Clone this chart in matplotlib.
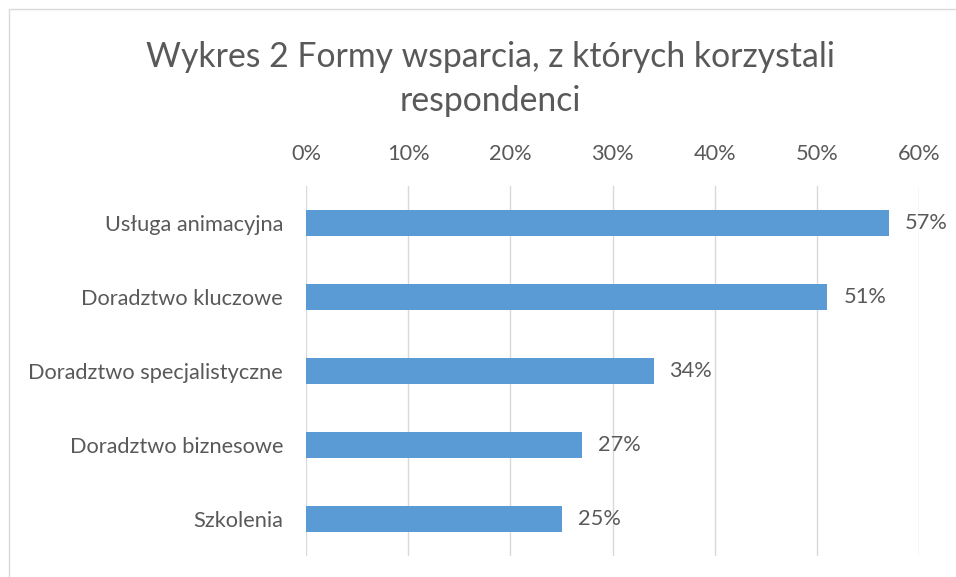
import matplotlib
matplotlib.use("Agg")
import matplotlib.pyplot as plt
from matplotlib.patches import Rectangle
from matplotlib.ticker import FuncFormatter

categories = ["Usługa animacyjna", "Doradztwo kluczowe", "Doradztwo specjalistyczne",
              "Doradztwo biznesowe", "Szkolenia"]
values = [0.57, 0.51, 0.34, 0.27, 0.25]
ticks = [0.0, 0.1, 0.2, 0.3, 0.4, 0.5, 0.6]
title = "Wykres 2 Formy wsparcia, z których korzystali\nrespondenci"

FONT = ["Lato", "DejaVu Sans"]
plt.rcParams['font.family'] = FONT
TXT = "#595959"
GRID = "#D9D9D9"
BAR = "#5B9BD5"

W, H = 956, 577
fig = plt.figure(figsize=(W / 100, H / 100), dpi=100)
fig.patch.set_facecolor("white")

# chart area border (cropped at right/bottom)
fig.add_artist(Rectangle((9 / W, -0.05), 1.1, 1 - 9 / H + 0.05, transform=fig.transFigure,
                         fill=False, edgecolor=GRID, linewidth=1.0))

ax = fig.add_axes([306 / W, 1 - 556 / H, (919.3 - 306) / W, (556 - 186) / H])
y = list(range(len(categories)))[::-1]
ax.barh(y, values, height=0.35, color=BAR, zorder=3)
ax.set_ylim(-0.5, len(categories) - 0.5)
ax.set_xlim(0, 0.6)
ax.set_yticks(y)
ax.set_yticklabels(categories, fontsize=15.7, color=TXT)
ax.set_xticks(ticks)
ax.xaxis.set_major_formatter(FuncFormatter(lambda v, p: f"{v*100:.0f}%"))
ax.xaxis.tick_top()
ax.tick_params(axis="x", length=0, pad=16, labelsize=15.7, labelcolor=TXT)
ax.tick_params(axis="y", length=0, pad=16.5)
ax.grid(axis="x", color=GRID, linewidth=1.0, zorder=0)
for s in ax.spines.values():
    s.set_visible(False)

for yi, v in zip(y, values):
    ax.annotate(f"{v*100:.0f}%", (v, yi), xytext=(11.5, 0), textcoords="offset points",
                ha="left", va="center", fontsize=15.7, color=TXT)

fig.text(490 / W, 1 - 79 / H, title, ha="center", va="center", fontsize=24.3,
         color=TXT, linespacing=1.45)

fig.savefig("out.png", dpi=100)
